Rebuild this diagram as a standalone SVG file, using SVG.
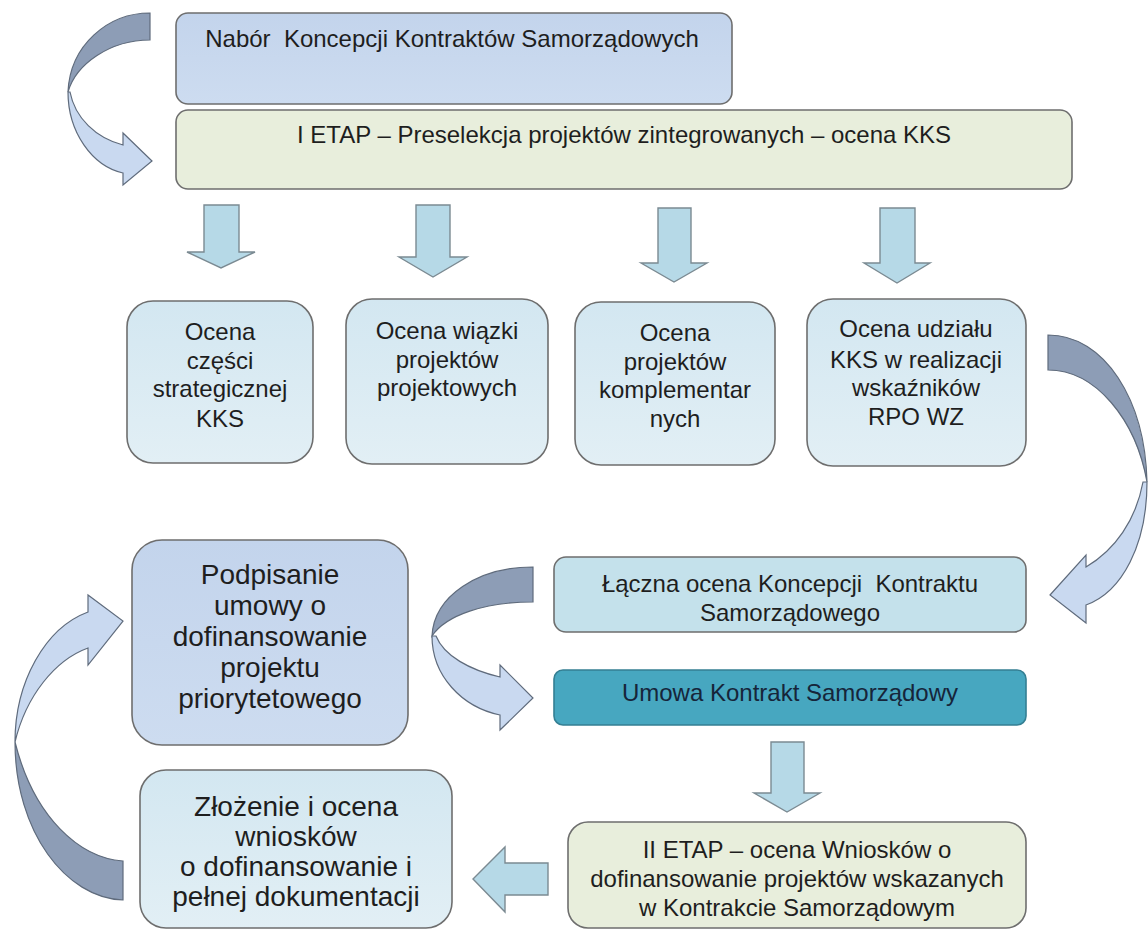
<svg xmlns="http://www.w3.org/2000/svg" width="1148" height="933" viewBox="0 0 1148 933">
<defs>
<style>
.box{stroke:#6e6e6e;stroke-width:1.6}
.t{font-family:"Liberation Sans",Arial,sans-serif;font-size:24px;fill:#1e1e1e;text-anchor:middle}
.big{font-size:28px}
.pre{white-space:pre}
.down{fill:#b6d9e7;stroke:#7b8a92;stroke-width:1.4}
.dark{fill:#8d9db6;stroke:#5f6b7c;stroke-width:1.2}
.light{fill:#c9d9f0;stroke:#5f6b7c;stroke-width:1.2}
</style>
<linearGradient id="gOc" x1="0" y1="0" x2="0" y2="1"><stop offset="0" stop-color="#d3e7f1"/><stop offset="1" stop-color="#e2eff5"/></linearGradient>
<linearGradient id="gBl" x1="0" y1="0" x2="0" y2="1"><stop offset="0" stop-color="#c3d4ec"/><stop offset="1" stop-color="#cddcf0"/></linearGradient>
</defs>
<rect width="1148" height="933" fill="#ffffff"/>

<g id="connectors">
<path class="dark" d="M150,13 C108,13 70,45 68,92 C76,64 110,40 150,40 Z"/>
<path class="light" d="M68,92 C68,132 92,166 123,173 L123,185 L152,161 L123,133 L123,145 C96,138 75,118 70,92 Z"/>
<polygon class="down" points="204,205 239,205 239,252 255,252 221,268 187,252 204,252"/>
<polygon class="down" points="416,205 450,205 450,257 467,257 433,277 399,257 416,257"/>
<polygon class="down" points="658,208 691,208 691,263 707,263 674,282 641,263 658,263"/>
<polygon class="down" points="880,208 915,208 915,263 930,263 897,283 864,263 880,263"/>
<path class="dark" d="M1048,335 C1105,335 1145,400 1147,482 C1136,420 1096,370 1048,370 Z"/>
<path class="light" d="M1147,482 C1147,545 1122,592 1086,605 L1086,623 L1050,595 L1086,555 L1086,567 C1115,550 1136,520 1143,482 Z"/>
<path class="dark" d="M533,567 C478,567 434,596 432,636 C446,615 485,602 533,602 Z"/>
<path class="light" d="M432,636 C432,676 462,707 500,715 L500,730 L533,698 L500,665 L500,677 C470,670 444,656 436,636 Z"/>
<polygon class="down" points="771,742 804,742 804,793 820,793 787,812 754,793 771,793"/>
<polygon class="down" points="548,863 548,895 505,895 505,912 473,879 505,847 505,863"/>
<path class="dark" d="M15,742 C15,832 66,898 123,900 L123,861 C80,858 34,818 15,742 Z"/>
<path class="light" d="M15,742 C15,682 45,628 88,612 L88,595 L123,621 L88,665 L88,648 C55,660 26,696 15,742 Z"/>
</g>

<g id="nabor">
<rect class="box" x="176" y="13" width="556" height="91" rx="12" fill="url(#gBl)"/>
<text class="t pre" x="452" y="47" xml:space="preserve">Nabór  Koncepcji Kontraktów Samorządowych</text>
</g>
<g id="etap1">
<rect class="box" x="176" y="110" width="896" height="79" rx="12" fill="#e8eedc"/>
<text class="t" x="624" y="143">I ETAP – Preselekcja projektów zintegrowanych – ocena KKS</text>
</g>

<g id="ocena1">
<rect class="box" x="127" y="301" width="186" height="162" rx="26" fill="url(#gOc)"/>
<text class="t" x="220" y="340">Ocena</text>
<text class="t" x="220" y="369">części</text>
<text class="t" x="220" y="397">strategicznej</text>
<text class="t" x="220" y="427">KKS</text>
</g>
<g id="ocena2">
<rect class="box" x="346" y="299" width="202" height="165" rx="26" fill="url(#gOc)"/>
<text class="t" x="447" y="339">Ocena wiązki</text>
<text class="t" x="447" y="368">projektów</text>
<text class="t" x="447" y="396">projektowych</text>
</g>
<g id="ocena3">
<rect class="box" x="575" y="302" width="200" height="163" rx="26" fill="url(#gOc)"/>
<text class="t" x="675" y="341">Ocena</text>
<text class="t" x="675" y="370">projektów</text>
<text class="t" x="675" y="398">komplementar</text>
<text class="t" x="675" y="427">nych</text>
</g>
<g id="ocena4">
<rect class="box" x="807" y="299" width="219" height="167" rx="26" fill="url(#gOc)"/>
<text class="t" x="916" y="337">Ocena udziału</text>
<text class="t" x="916" y="368">KKS w realizacji</text>
<text class="t" x="916" y="396">wskaźników</text>
<text class="t" x="916" y="425">RPO WZ</text>
</g>

<g id="podpisanie">
<rect class="box" x="132" y="540" width="276" height="205" rx="30" fill="url(#gBl)"/>
<text class="t big" x="270" y="584">Podpisanie</text>
<text class="t big" x="270" y="615">umowy o</text>
<text class="t big" x="270" y="646">dofinansowanie</text>
<text class="t big" x="270" y="677">projektu</text>
<text class="t big" x="270" y="708">priorytetowego</text>
</g>
<g id="laczna">
<rect class="box" x="554" y="557" width="472" height="75" rx="12" fill="#c4e1eb"/>
<text class="t pre" x="790" y="592" xml:space="preserve">Łączna ocena Koncepcji  Kontraktu</text>
<text class="t" x="790" y="621">Samorządowego</text>
</g>
<g id="umowa">
<rect x="554" y="670" width="472" height="55" rx="9" fill="#47a7c0" stroke="#347f93" stroke-width="1.6"/>
<text class="t" x="790" y="701" style="fill:#16253a">Umowa Kontrakt Samorządowy</text>
</g>
<g id="zlozenie">
<rect class="box" x="140" y="770" width="312" height="158" rx="26" fill="url(#gOc)"/>
<text class="t big" x="296" y="816">Złożenie i ocena</text>
<text class="t big" x="296" y="846">wniosków</text>
<text class="t big" x="296" y="876">o dofinansowanie i</text>
<text class="t big" x="296" y="906">pełnej dokumentacji</text>
</g>
<g id="etap2">
<rect class="box" x="568" y="822" width="458" height="106" rx="20" fill="#e8eedc"/>
<text class="t" x="797" y="858">II ETAP – ocena Wniosków o</text>
<text class="t" x="797" y="887">dofinansowanie projektów wskazanych</text>
<text class="t" x="797" y="916">w Kontrakcie Samorządowym</text>
</g>
</svg>
